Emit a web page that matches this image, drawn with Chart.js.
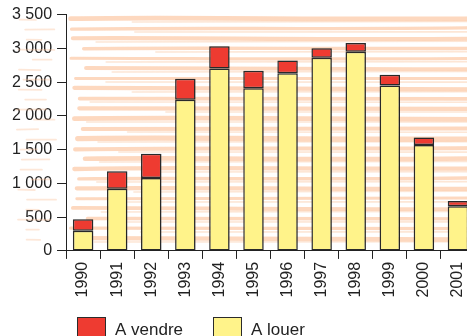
<!DOCTYPE html>
<html>
<head>
<meta charset="utf-8">
<script src="https://cdn.jsdelivr.net/npm/chart.js@4"></script>
<style>
  html, body { margin: 0; padding: 0; overflow: hidden; background: #ffffff; }
  canvas { display: block; }
</style>
</head>
<body>
<canvas id="chart" width="482" height="345"></canvas>
<script>
// Logements par année : à louer (bas de pile) et à vendre (haut de pile)
const years = ['1990', '1991', '1992', '1993', '1994', '1995', '1996', '1997', '1998', '1999', '2000', '2001'];
const aLouer = [300, 920, 1080, 2240, 2700, 2410, 2630, 2860, 2950, 2450, 1570, 660];
const aVendre = [170, 260, 360, 310, 330, 260, 190, 140, 130, 160, 110, 80];
const yTicks = [0, 500, 1000, 1500, 2000, 2500, 3000, 3500];
const legendLabels = ['A vendre', 'A louer'];

const RED = '#ee3b31';
const YELLOW = '#fff38a';
const EDGE = '#2b2b2b';
const INK = '#222222';
const FONT = '"Liberation Sans", Arial, sans-serif';

function fmt(v) {
  if (v < 1000) return String(v);
  return Math.floor(v / 1000) + ' ' + String(v % 1000).padStart(3, '0');
}

// Smooth deterministic wobble for the brush-stroke backdrop
function wob(i, k) {
  return Math.sin(i * 12.9898 + k * 78.233) * 0.5 + Math.sin(i * 3.7 + k * 1.3) * 0.5;
}

// Pale orange horizontal brush strokes behind the plot
const brushBackdrop = {
  id: 'brushBackdrop',
  beforeDatasetsDraw(chart) {
    const { ctx, chartArea } = chart;
    const top = chartArea.top + 4;
    const bottom = chartArea.bottom - 4;
    ctx.save();
    ctx.lineCap = 'round';
    let i = 0;
    for (let y = top; y <= bottom; y += 10, i++) {
      // main stroke across the plot
      ctx.strokeStyle = 'rgba(252, 200, 164, 0.7)';
      ctx.lineWidth = 4 + wob(i, 1) * 1.2;
      const x0 = chartArea.left + 4 + Math.abs(wob(i, 2)) * 18;
      ctx.beginPath();
      ctx.moveTo(x0, y + wob(i, 3) * 0.8);
      ctx.bezierCurveTo(x0 + 120, y - 1 + wob(i, 4), x0 + 260, y + 1 + wob(i, 5),
                        chart.width, y + wob(i, 6));
      ctx.stroke();
      // thin companion stroke
      ctx.strokeStyle = 'rgba(252, 205, 172, 0.5)';
      ctx.lineWidth = 1.6;
      const x1 = chartArea.left + 20 + Math.abs(wob(i, 7)) * 80;
      ctx.beginPath();
      ctx.moveTo(x1, y + 3.4);
      ctx.lineTo(chart.width, y + 3.2 + wob(i, 8) * 0.6);
      ctx.stroke();
      // short lighter dashes left of the axis
      ctx.strokeStyle = 'rgba(250, 195, 158, 0.4)';
      ctx.lineWidth = 1.8;
      const lx = 16 + Math.abs(wob(i, 9)) * 18;
      const lw = 12 + Math.abs(wob(i, 10)) * 26;
      ctx.beginPath();
      ctx.moveTo(lx, y + 1);
      ctx.lineTo(Math.min(lx + lw, chartArea.left - 10), y + 1 + wob(i, 11) * 0.5);
      ctx.stroke();
    }
    ctx.restore();
  }
};

// Soft shadow under the bars
const barShadow = {
  id: 'barShadow',
  beforeDatasetDraw(chart) {
    const ctx = chart.ctx;
    ctx.save();
    ctx.shadowColor = 'rgba(0,0,0,0.2)';
    ctx.shadowBlur = 1.5;
    ctx.shadowOffsetX = 1;
    ctx.shadowOffsetY = 0;
  },
  afterDatasetDraw(chart) {
    chart.ctx.restore();
  }
};

// Legend row under the axis
const bottomLegend = {
  id: 'bottomLegend',
  afterDraw(chart) {
    const ctx = chart.ctx;
    const items = [
      { text: legendLabels[0], color: RED, x: 77 },
      { text: legendLabels[1], color: YELLOW, x: 213 }
    ];
    ctx.save();
    ctx.font = '17px ' + FONT;
    ctx.textBaseline = 'alphabetic';
    ctx.textAlign = 'left';
    items.forEach(it => {
      ctx.fillStyle = it.color;
      ctx.fillRect(it.x, 317, 29, 24);
      ctx.strokeStyle = EDGE;
      ctx.lineWidth = 1;
      ctx.strokeRect(it.x + 0.5, 317.5, 28, 23);
      ctx.fillStyle = INK;
      ctx.fillText(it.text, it.x + 38, 334.5);
    });
    ctx.restore();
  }
};

new Chart(document.getElementById('chart'), {
  type: 'bar',
  data: {
    labels: years,
    datasets: [
      {
        label: legendLabels[1],
        data: aLouer,
        backgroundColor: YELLOW,
        borderColor: EDGE,
        borderWidth: 1.5,
        borderSkipped: false
      },
      {
        label: legendLabels[0],
        data: aVendre,
        backgroundColor: RED,
        borderColor: EDGE,
        borderWidth: 1.5,
        borderSkipped: false
      }
    ]
  },
  options: {
    responsive: false,
    animation: false,
    devicePixelRatio: 1,
    layout: { padding: { left: 7, right: 7, top: 8, bottom: 44.5 } },
    categoryPercentage: 1,
    barPercentage: 0.6,
    plugins: {
      legend: { display: false },
      tooltip: { enabled: false }
    },
    scales: {
      x: {
        stacked: true,
        grid: {
          display: true,
          offset: true,
          drawOnChartArea: false,
          drawTicks: true,
          tickLength: 8,
          color: INK,
          lineWidth: 1
        },
        border: { display: true, color: INK, width: 1 },
        ticks: {
          color: INK,
          font: { family: FONT, size: 16 },
          minRotation: 90,
          maxRotation: 90,
          autoSkip: false,
          padding: 3
        }
      },
      y: {
        stacked: true,
        min: 0,
        max: 3500,
        afterBuildTicks(axis) {
          axis.ticks = yTicks.map(v => ({ value: v }));
        },
        grid: {
          display: true,
          drawOnChartArea: false,
          drawTicks: true,
          tickLength: 9,
          color: INK,
          lineWidth: 1
        },
        border: { display: true, color: INK, width: 1 },
        ticks: {
          color: INK,
          font: { family: FONT, size: 16 },
          padding: 5,
          callback: v => fmt(v)
        }
      }
    }
  },
  plugins: [brushBackdrop, barShadow, bottomLegend]
});
</script>
</body>
</html>
